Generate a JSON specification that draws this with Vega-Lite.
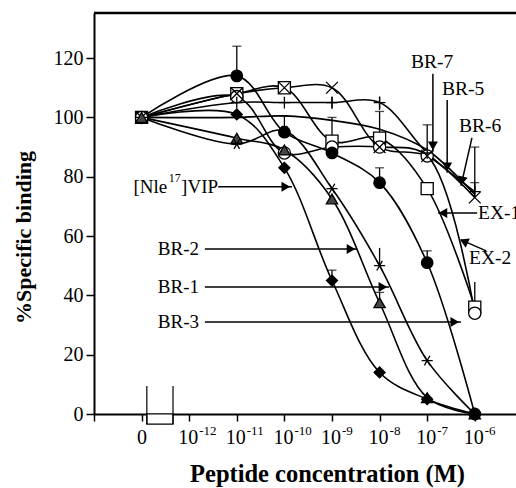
{
  "$schema": "https://vega.github.io/schema/vega-lite/v6.json",
  "width": 422,
  "height": 401,
  "autosize": {"type": "none"},
  "padding": {"left": 94, "top": 13, "right": 0, "bottom": 74},
  "config": {"view": {"stroke": null}, "font": "Liberation Serif", "axis": {"grid": false}},
  "datasets": {
    "lines": [
      {"s": "VIP", "x": -13, "y": 100}, {"s": "VIP", "x": -11, "y": 101}, {"s": "VIP", "x": -10, "y": 83}, {"s": "VIP", "x": -9, "y": 45}, {"s": "VIP", "x": -8, "y": 14}, {"s": "VIP", "x": -7, "y": 5}, {"s": "VIP", "x": -6, "y": 0},
      {"s": "BR-1", "x": -13, "y": 100}, {"s": "BR-1", "x": -11, "y": 91}, {"s": "BR-1", "x": -10, "y": 95.5}, {"s": "BR-1", "x": -9, "y": 76}, {"s": "BR-1", "x": -8, "y": 50}, {"s": "BR-1", "x": -7, "y": 18}, {"s": "BR-1", "x": -6, "y": 0},
      {"s": "BR-2", "x": -13, "y": 100}, {"s": "BR-2", "x": -11, "y": 93}, {"s": "BR-2", "x": -10, "y": 89}, {"s": "BR-2", "x": -9, "y": 72.5}, {"s": "BR-2", "x": -8, "y": 37.5}, {"s": "BR-2", "x": -7, "y": 5.5}, {"s": "BR-2", "x": -6, "y": 0},
      {"s": "BR-3", "x": -13, "y": 100}, {"s": "BR-3", "x": -11, "y": 114}, {"s": "BR-3", "x": -10, "y": 95}, {"s": "BR-3", "x": -9, "y": 88}, {"s": "BR-3", "x": -8, "y": 78}, {"s": "BR-3", "x": -7, "y": 51}, {"s": "BR-3", "x": -6, "y": 0},
      {"s": "BR-5", "x": -13, "y": 100}, {"s": "BR-5", "x": -11, "y": 105}, {"s": "BR-5", "x": -10, "y": 105}, {"s": "BR-5", "x": -9, "y": 105}, {"s": "BR-5", "x": -8, "y": 105}, {"s": "BR-5", "x": -7, "y": 88}, {"s": "BR-5", "x": -6, "y": 75},
      {"s": "BR-6", "x": -13, "y": 100}, {"s": "BR-6", "x": -11, "y": 108}, {"s": "BR-6", "x": -10, "y": 110}, {"s": "BR-6", "x": -9, "y": 110}, {"s": "BR-6", "x": -8, "y": 90}, {"s": "BR-6", "x": -7, "y": 87}, {"s": "BR-6", "x": -6, "y": 73},
      {"s": "BR-7", "x": -13, "y": 100}, {"s": "BR-7", "x": -11, "y": 100}, {"s": "BR-7", "x": -10, "y": 100.5}, {"s": "BR-7", "x": -9, "y": 99}, {"s": "BR-7", "x": -8, "y": 96}, {"s": "BR-7", "x": -7, "y": 89}, {"s": "BR-7", "x": -6, "y": 74},
      {"s": "EX-1", "x": -13, "y": 100}, {"s": "EX-1", "x": -11, "y": 108}, {"s": "EX-1", "x": -10, "y": 110}, {"s": "EX-1", "x": -9, "y": 92}, {"s": "EX-1", "x": -8, "y": 93}, {"s": "EX-1", "x": -7, "y": 76}, {"s": "EX-1", "x": -6, "y": 36},
      {"s": "EX-2", "x": -13, "y": 100}, {"s": "EX-2", "x": -11, "y": 107}, {"s": "EX-2", "x": -10, "y": 88}, {"s": "EX-2", "x": -9, "y": 90}, {"s": "EX-2", "x": -8, "y": 90}, {"s": "EX-2", "x": -7, "y": 87}, {"s": "EX-2", "x": -6, "y": 34}
    ],
    "errs": [
      {"s": "BR-3", "x": -11, "y": 114, "y2": 124, "cap": 1},
      {"s": "BR-3", "x": -10, "y": 95, "y2": 100.5, "cap": 1},
      {"s": "BR-3", "x": -8, "y": 78, "y2": 83, "cap": 1},
      {"s": "BR-3", "x": -7, "y": 51, "y2": 55, "cap": 1},
      {"s": "VIP", "x": -9, "y": 45, "y2": 48.5, "cap": 1},
      {"s": "BR-2", "x": -8, "y": 37.5, "y2": 41, "cap": 1},
      {"s": "BR-1", "x": -8, "y": 50, "y2": 56, "cap": 0},
      {"s": "BR-6", "x": -7, "y": 87, "y2": 97.5, "cap": 1},
      {"s": "BR-6", "x": -6, "y": 73, "y2": 90, "cap": 1},
      {"s": "BR-5", "x": -6, "y": 75, "y2": 78, "cap": 1},
      {"s": "EX-1", "x": -6, "y": 36, "y2": 44.5, "cap": 0},
      {"s": "EX-1", "x": -9, "y": 92, "y2": 100, "cap": 1},
      {"s": "EX-1", "x": -8, "y": 93, "y2": 102, "cap": 1},
      {"s": "BR-5", "x": -9, "y": 103, "y2": 107, "cap": 0},
      {"s": "BR-5", "x": -8, "y": 102.5, "y2": 107, "cap": 0}
    ],
    "pts": [
      {"s": "EX-1", "x": -13, "y": 100}, {"s": "EX-1", "x": -11, "y": 108}, {"s": "EX-1", "x": -10, "y": 110}, {"s": "EX-1", "x": -9, "y": 92}, {"s": "EX-1", "x": -8, "y": 93}, {"s": "EX-1", "x": -7, "y": 76}, {"s": "EX-1", "x": -6, "y": 36},
      {"s": "EX-2", "x": -13, "y": 100}, {"s": "EX-2", "x": -11, "y": 107}, {"s": "EX-2", "x": -10, "y": 88}, {"s": "EX-2", "x": -9, "y": 90}, {"s": "EX-2", "x": -8, "y": 90}, {"s": "EX-2", "x": -7, "y": 87}, {"s": "EX-2", "x": -6, "y": 34},
      {"s": "BR-6", "x": -13, "y": 100}, {"s": "BR-6", "x": -11, "y": 108}, {"s": "BR-6", "x": -10, "y": 110}, {"s": "BR-6", "x": -9, "y": 110}, {"s": "BR-6", "x": -8, "y": 90}, {"s": "BR-6", "x": -7, "y": 87}, {"s": "BR-6", "x": -6, "y": 73},
      {"s": "BR-5", "x": -13, "y": 100}, {"s": "BR-5", "x": -11, "y": 105}, {"s": "BR-5", "x": -10, "y": 105}, {"s": "BR-5", "x": -9, "y": 105}, {"s": "BR-5", "x": -8, "y": 105}, {"s": "BR-5", "x": -7, "y": 88}, {"s": "BR-5", "x": -6, "y": 75},
      {"s": "BR-2", "x": -13, "y": 100}, {"s": "BR-2", "x": -11, "y": 93}, {"s": "BR-2", "x": -10, "y": 89}, {"s": "BR-2", "x": -9, "y": 72.5}, {"s": "BR-2", "x": -8, "y": 37.5}, {"s": "BR-2", "x": -7, "y": 5.5}, {"s": "BR-2", "x": -6, "y": 0},
      {"s": "VIP", "x": -11, "y": 101}, {"s": "VIP", "x": -10, "y": 83}, {"s": "VIP", "x": -9, "y": 45}, {"s": "VIP", "x": -8, "y": 14}, {"s": "VIP", "x": -7, "y": 5}, {"s": "VIP", "x": -6, "y": 0},
      {"s": "BR-3", "x": -11, "y": 114}, {"s": "BR-3", "x": -10, "y": 95}, {"s": "BR-3", "x": -9, "y": 88}, {"s": "BR-3", "x": -8, "y": 78}, {"s": "BR-3", "x": -7, "y": 51}, {"s": "BR-3", "x": -6, "y": 0},
      {"s": "BR-1", "x": -11, "y": 91}, {"s": "BR-1", "x": -10, "y": 95.5}, {"s": "BR-1", "x": -9, "y": 76}, {"s": "BR-1", "x": -8, "y": 50}, {"s": "BR-1", "x": -7, "y": 18}, {"s": "BR-1", "x": -6, "y": 0}
    ],
    "arrows": [
      {"x": -11.39, "y": 76.6, "x2": -9.84, "y2": 76.6},
      {"x": -11.67, "y": 55.6, "x2": -8.47, "y2": 55.6},
      {"x": -11.67, "y": 42.8, "x2": -7.8, "y2": 42.8},
      {"x": -11.67, "y": 31.0, "x2": -6.29, "y2": 31.0},
      {"x": -6.88, "y": 114.7, "x2": -6.88, "y2": 88.4},
      {"x": -6.58, "y": 105.9, "x2": -6.58, "y2": 81.3},
      {"x": -6.06, "y": 93.1, "x2": -6.29, "y2": 76.9},
      {"x": -5.95, "y": 67.8, "x2": -6.77, "y2": 67.8},
      {"x": -5.76, "y": 55.0, "x2": -6.29, "y2": 58.7}
    ],
    "heads": [
      {"x": -9.97, "y": 76.6, "shape": "triangle-right", "a": 0},
      {"x": -8.6, "y": 55.6, "shape": "triangle-right", "a": 0},
      {"x": -7.93, "y": 42.8, "shape": "triangle-right", "a": 0},
      {"x": -6.42, "y": 31.0, "shape": "triangle-right", "a": 0},
      {"x": -6.88, "y": 90.4, "shape": "triangle-down", "a": 0},
      {"x": -6.58, "y": 83.3, "shape": "triangle-down", "a": 0},
      {"x": -6.27, "y": 78.6, "shape": "triangle-down", "a": 13},
      {"x": -6.67, "y": 67.8, "shape": "triangle-left", "a": 0},
      {"x": -6.23, "y": 58.2, "shape": "triangle-left", "a": 24}
    ],
    "labels": [
      {"t": "[Nle", "x": -13.17, "y": 76.6, "fs": 19},
      {"t": "17", "x": -12.43, "y": 79.6, "fs": 12},
      {"t": "]VIP", "x": -12.17, "y": 76.6, "fs": 19},
      {"t": "BR-2", "x": -12.66, "y": 55.6, "fs": 19},
      {"t": "BR-1", "x": -12.66, "y": 42.8, "fs": 19},
      {"t": "BR-3", "x": -12.66, "y": 31.0, "fs": 19},
      {"t": "BR-7", "x": -7.34, "y": 118.7, "fs": 19.5},
      {"t": "BR-5", "x": -6.69, "y": 109.6, "fs": 19.5},
      {"t": "BR-6", "x": -6.33, "y": 97.1, "fs": 19.5},
      {"t": "EX-1", "x": -5.93, "y": 67.8, "fs": 19.5},
      {"t": "EX-2", "x": -6.12, "y": 52.6, "fs": 19.5},
      {"t": "-12", "x": -11.79, "y": -5.6, "fs": 13},
      {"t": "-11", "x": -10.79, "y": -5.6, "fs": 13},
      {"t": "-10", "x": -9.79, "y": -5.6, "fs": 13},
      {"t": "-9", "x": -8.79, "y": -5.6, "fs": 13},
      {"t": "-8", "x": -7.79, "y": -5.6, "fs": 13},
      {"t": "-7", "x": -6.79, "y": -5.6, "fs": 13},
      {"t": "-6", "x": -5.79, "y": -5.6, "fs": 13}
    ]
  },
  "layer": [
    {
      "data": {"name": "lines"},
      "mark": {"type": "line", "interpolate": "catmull-rom", "color": "black", "strokeWidth": 1.6},
      "encoding": {
        "x": {"field": "x", "type": "quantitative", "scale": {"domain": [-14, -5.134], "nice": false, "zero": false},
          "axis": {"title": "Peptide concentration (M)", "values": [-14, -13, -12, -11, -10, -9, -8, -7, -6],
            "labelExpr": "datum.value==-13?'0':datum.value==-14?'':'10'",
            "labelFontSize": 20, "labelColor": "black", "labelPadding": 6, "labelFlush": false, "labelOverlap": false,
            "labelOffset": {"condition": {"test": "datum.value == -13", "value": 0}, "value": -1.5},
            "tickSize": 7, "tickWidth": 1.5, "tickColor": "black", "domainColor": "black", "domainWidth": 2,
            "titleFontSize": 24.5, "titleFontWeight": "bold", "titleColor": "black", "titleBaseline": "alphabetic", "titleX": 233, "titleY": 67}},
        "y": {"field": "y", "type": "quantitative", "scale": {"domain": [0, 135.2], "nice": false},
          "axis": {"title": "%Specific binding", "values": [0, 20, 40, 60, 80, 100, 120],
            "labelFontSize": 20, "labelColor": "black", "labelPadding": 3, "labelFlush": false,
            "tickSize": 8, "tickWidth": 1.5, "tickColor": "black", "domainColor": "black", "domainWidth": 2,
            "titleFontSize": 22, "titleFontWeight": "bold", "titleColor": "black", "titleBaseline": "alphabetic", "titleX": -64, "titleY": 224}},
        "detail": {"field": "s"}
      }
    },
    {
      "data": {"name": "errs"},
      "mark": {"type": "rule", "color": "black", "strokeWidth": 1.3},
      "encoding": {
        "x": {"field": "x", "type": "quantitative"},
        "y": {"field": "y", "type": "quantitative"},
        "y2": {"field": "y2"}
      }
    },
    {
      "data": {"name": "errs"},
      "transform": [{"filter": "datum.cap == 1"}],
      "mark": {"type": "tick", "orient": "horizontal", "color": "black", "size": 9, "thickness": 1.3},
      "encoding": {
        "x": {"field": "x", "type": "quantitative"},
        "y": {"field": "y2", "type": "quantitative"}
      }
    },
    {
      "data": {"name": "pts"},
      "mark": {"type": "point", "opacity": 1, "strokeWidth": 1.3, "stroke": "black"},
      "encoding": {
        "x": {"field": "x", "type": "quantitative"},
        "y": {"field": "y", "type": "quantitative"},
        "shape": {"field": "s", "type": "nominal", "legend": null,
          "scale": {"domain": ["VIP", "BR-1", "BR-2", "BR-3", "BR-5", "BR-6", "BR-7", "EX-1", "EX-2"],
            "range": ["diamond", "M-1,0L1,0M-0.5,-0.866L0.5,0.866M-0.5,0.866L0.5,-0.866", "triangle-up", "circle", "M-1,0L1,0M0,-1L0,1", "M-1,-1L1,1M-1,1L1,-1", "M-1,0L1,0", "square", "circle"]}},
        "fill": {"field": "s", "type": "nominal", "legend": null,
          "scale": {"domain": ["VIP", "BR-1", "BR-2", "BR-3", "BR-5", "BR-6", "BR-7", "EX-1", "EX-2"],
            "range": ["black", "transparent", "#454545", "black", "transparent", "transparent", "transparent", "white", "white"]}},
        "size": {"field": "s", "type": "nominal", "legend": null,
          "scale": {"domain": ["VIP", "BR-1", "BR-2", "BR-3", "BR-5", "BR-6", "BR-7", "EX-1", "EX-2"],
            "range": [120, 150, 120, 125, 140, 110, 80, 130, 125]}}
      }
    },
    {
      "data": {"values": [{"x": -14, "x2": -5.134, "y": 135.2}]},
      "mark": {"type": "rule", "color": "black", "strokeWidth": 2.5},
      "encoding": {
        "x": {"field": "x", "type": "quantitative"},
        "x2": {"field": "x2"},
        "y": {"field": "y", "type": "quantitative"}
      }
    },
    {
      "data": {"values": [{"x": -12.89, "x2": -12.34, "y": 0, "y2": -3.4}]},
      "mark": {"type": "rect", "fill": "white", "stroke": "black", "strokeWidth": 1.2},
      "encoding": {
        "x": {"field": "x", "type": "quantitative"},
        "x2": {"field": "x2"},
        "y": {"field": "y", "type": "quantitative"},
        "y2": {"field": "y2"}
      }
    },
    {
      "data": {"values": [{"x": -12.89, "y": -3.4, "y2": 9.4}, {"x": -12.34, "y": -3.4, "y2": 9.4}]},
      "mark": {"type": "rule", "color": "black", "strokeWidth": 1.2},
      "encoding": {
        "x": {"field": "x", "type": "quantitative"},
        "y": {"field": "y", "type": "quantitative"},
        "y2": {"field": "y2"}
      }
    },
    {
      "data": {"name": "arrows"},
      "mark": {"type": "rule", "color": "black", "strokeWidth": 1.5},
      "encoding": {
        "x": {"field": "x", "type": "quantitative"},
        "y": {"field": "y", "type": "quantitative"},
        "x2": {"field": "x2"},
        "y2": {"field": "y2"}
      }
    },
    {
      "data": {"name": "heads"},
      "mark": {"type": "point", "filled": true, "color": "black", "opacity": 1, "size": 100},
      "encoding": {
        "x": {"field": "x", "type": "quantitative"},
        "y": {"field": "y", "type": "quantitative"},
        "shape": {"field": "shape", "type": "nominal", "scale": null},
        "angle": {"field": "a", "type": "quantitative", "scale": null}
      }
    },
    {
      "data": {"name": "labels"},
      "mark": {"type": "text", "align": "left", "baseline": "middle", "font": "Liberation Serif", "color": "black"},
      "encoding": {
        "x": {"field": "x", "type": "quantitative"},
        "y": {"field": "y", "type": "quantitative"},
        "text": {"field": "t"},
        "size": {"field": "fs", "type": "quantitative", "scale": null}
      }
    }
  ]
}
